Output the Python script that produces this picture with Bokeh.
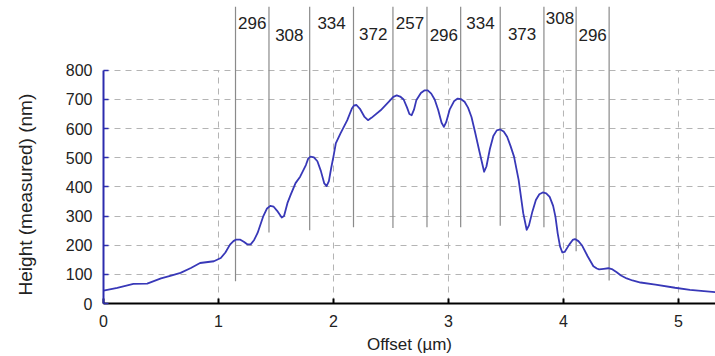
from bokeh.plotting import figure
from bokeh.models import Range1d, FixedTicker, ColumnDataSource
from bokeh.embed import file_html
from bokeh.resources import INLINE

# ---- data ----
offset_um = [0.00, 0.12, 0.26, 0.38, 0.50, 0.58, 0.67, 0.76, 0.84, 0.96, 1.02, 1.06,
             1.10, 1.13, 1.15, 1.19, 1.22, 1.25, 1.28, 1.31, 1.34, 1.39, 1.42, 1.45,
             1.48, 1.51, 1.55, 1.57, 1.60, 1.63, 1.67, 1.71, 1.76, 1.78, 1.80, 1.83,
             1.86, 1.89, 1.92, 1.94, 1.96, 1.98, 2.00, 2.02, 2.06, 2.12, 2.16, 2.18,
             2.20, 2.23, 2.27, 2.30, 2.33, 2.41, 2.48, 2.52, 2.55, 2.58, 2.61, 2.64,
             2.66, 2.68, 2.70, 2.72, 2.76, 2.79, 2.82, 2.85, 2.88, 2.91, 2.94, 2.96,
             2.98, 3.01, 3.05, 3.08, 3.11, 3.14, 3.17, 3.20, 3.23, 3.27, 3.31, 3.33,
             3.36, 3.39, 3.42, 3.45, 3.48, 3.51, 3.54, 3.57, 3.61, 3.65, 3.68, 3.70,
             3.73, 3.76, 3.79, 3.82, 3.85, 3.88, 3.91, 3.93, 3.95, 3.97, 3.99, 4.01,
             4.05, 4.08, 4.10, 4.13, 4.16, 4.21, 4.26, 4.29, 4.31, 4.35, 4.39, 4.42,
             4.46, 4.50, 4.55, 4.60, 4.67, 4.80, 4.97, 5.10, 5.32]
height_nm = [44, 54, 67, 68, 86, 95, 105, 122, 139, 145, 156, 175,
             202, 214, 219, 219, 212, 203, 203, 218, 242, 300, 325, 335,
             332, 318, 295, 300, 345, 375, 413, 435, 475, 497, 504, 501,
             488, 455, 412, 403, 420, 465, 505, 549, 583, 629, 669, 680,
             681, 668, 640, 629, 637, 663, 692, 709, 714, 710, 700, 672,
             650, 646, 665, 697, 722, 731, 731, 720, 700, 665, 620, 606,
             622, 665, 695, 703, 701, 692, 672, 640, 590, 520, 452, 470,
             530, 575, 594, 597, 590, 572, 540, 504, 424, 310, 253, 268,
             316, 355, 375, 381, 378, 366, 335, 298, 240, 196, 175, 177,
             202, 218, 221, 214, 200, 162, 128, 120, 117, 119, 121, 118,
             108, 96, 86, 79, 72, 65, 54, 47, 39]

marker_x = [1.148, 1.439, 1.793, 2.174, 2.517, 2.813, 3.106, 3.450, 3.830, 4.110, 4.397]
marker_bottom = [76, 244, 251, 262, 259, 262, 262, 267, 262, 179, 79]
spacing_labels = ["296", "308", "334", "372", "257", "296", "334", "373", "308", "296"]
label_y = [961, 920, 964, 926, 964, 920, 964, 926, 981, 920]

x_ticks = [0, 1, 2, 3, 4, 5]
y_ticks = [0, 100, 200, 300, 400, 500, 600, 700, 800]
y_title = "Height (measured) (nm)"
x_title = "Offset (µm)"

FONT = "Liberation Sans"
BLUE_AXIS = "#2c2cae"
BLUE_LINE = "#3838b8"
TEXT = "#222222"
Y_TOP = 1019

p = figure(width=715, height=356, x_range=Range1d(0, 5.322), y_range=Range1d(0, Y_TOP),
           output_backend="svg", toolbar_location=None,
           min_border_left=103, min_border_right=0, min_border_top=6, min_border_bottom=52)
p.outline_line_color = None
p.background_fill_color = "white"
p.border_fill_color = "white"

# grid
p.xgrid.visible = False
p.ygrid.ticker = FixedTicker(ticks=y_ticks[1:])
p.ygrid.grid_line_color = "#b4b4b4"
p.ygrid.grid_line_dash = "6 5"
p.ygrid.grid_line_width = 1
p.segment(x0=x_ticks[1:], x1=x_ticks[1:], y0=[0] * 5, y1=[y_ticks[-1]] * 5,
          line_color="#b4b4b4", line_dash="6 5", line_width=1)

# axes
xa = p.xaxis[0]
xa.ticker = FixedTicker(ticks=x_ticks)
xa.axis_line_color = "black"
xa.axis_line_width = 2
xa.major_tick_line_color = "black"
xa.major_tick_line_width = 2
xa.major_tick_in = 5
xa.major_tick_out = 0
xa.minor_tick_line_color = None
xa.major_label_text_font = FONT
xa.major_label_text_font_size = "16px"
xa.major_label_text_color = TEXT
xa.major_label_standoff = 11
xa.axis_label = x_title
xa.axis_label_text_font = FONT
xa.axis_label_text_font_size = "17px"
xa.axis_label_text_font_style = "normal"
xa.axis_label_text_color = TEXT
xa.axis_label_standoff = 5

ya = p.yaxis[0]
ya.ticker = FixedTicker(ticks=y_ticks)
ya.bounds = (0, 800)
ya.axis_line_color = BLUE_AXIS
ya.axis_line_width = 2
ya.major_tick_line_color = BLUE_AXIS
ya.major_tick_line_width = 1.5
ya.major_tick_in = 5
ya.major_tick_out = 0
ya.minor_tick_line_color = None
ya.major_label_text_font = FONT
ya.major_label_text_font_size = "16px"
ya.major_label_text_color = TEXT
ya.major_label_standoff = 11
# non-breaking padding shifts the centred label down to sit beside the 0-800 span
ya.axis_label = y_title + "\u00a0" * 15
ya.axis_label_text_font = FONT
ya.axis_label_text_font_size = "19px"
ya.axis_label_text_font_style = "normal"
ya.axis_label_text_color = TEXT
ya.axis_label_standoff = 27

# measurement lines
p.segment(x0=marker_x, x1=marker_x, y0=marker_bottom, y1=[Y_TOP] * len(marker_x),
          line_color="#8a8a8a", line_width=1.2)

# profile
p.line(offset_um, height_nm, line_color=BLUE_LINE, line_width=1.8, line_join="round")

# spacing labels centered between consecutive lines
mid_x = [(marker_x[i] + marker_x[i + 1]) / 2 for i in range(len(spacing_labels))]
src = ColumnDataSource(dict(x=mid_x, y=label_y, t=spacing_labels))
p.text(x="x", y="y", text="t", source=src, text_align="center", text_baseline="alphabetic",
       text_font={"value": FONT}, text_font_size={"value": "17px"}, text_color=TEXT)

open("out.html", "w").write(file_html(p, INLINE))
